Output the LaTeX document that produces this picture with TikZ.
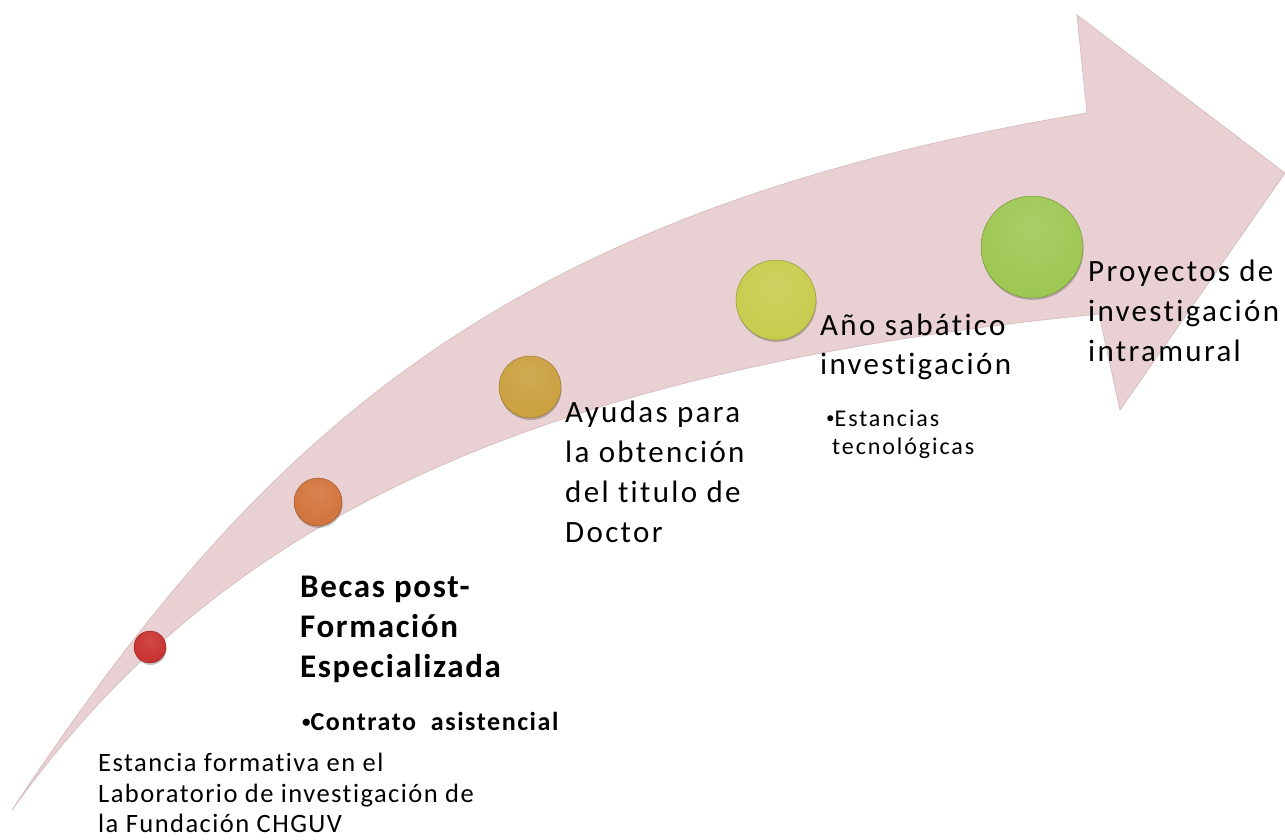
\documentclass[tikz,border=0pt]{standalone}
\usepackage{fontspec}
\setmainfont[Ligatures=NoCommon]{Carlito}
\usetikzlibrary{shadows}
\definecolor{arrowpink}{RGB}{232,208,211}
\definecolor{arrowedge}{RGB}{214,188,192}
\definecolor{cred}{RGB}{200,48,46}
\definecolor{corange}{RGB}{210,115,59}
\definecolor{cgold}{RGB}{202,160,62}
\definecolor{cyell}{RGB}{199,204,76}
\definecolor{cgreen}{RGB}{157,199,82}
\colorlet{bl}{red}\colorlet{bm}{red}\colorlet{bd}{red}
\pgfdeclareradialshading[bl,bm,bd]{button}{\pgfpoint{0bp}{10bp}}{color(0bp)=(bl); color(30bp)=(bm); color(46bp)=(bm); color(54bp)=(bd); color(60bp)=(bd)}
\newcommand{\smbul}{\raisebox{2.5pt}{\fontsize{17}{17}\selectfont •}}
\tikzset{
  ball/.style={circle, inner sep=0pt, minimum size=#1,
    drop shadow={shadow xshift=0.6pt, shadow yshift=-2pt, opacity=0.22, fill=black}},
  bcol/.style={/utils/exec={\colorlet{bm}{#1}\colorlet{bl}{#1!88!white}\colorlet{bd}{#1!65!black}},
    shading=button, draw=#1!70!black, line width=0.4pt},
  txtsmall/.style={anchor=base west, inner sep=0pt, text=black,
    font=\fontsize{26.5}{32}\selectfont\addfontfeatures{LetterSpace=5.5}},
  txtbold/.style={anchor=base west, inner sep=0pt, text=black,
    font=\fontsize{33}{40}\selectfont\bfseries\addfontfeatures{LetterSpace=5}},
  txtboldsm/.style={anchor=base west, inner sep=0pt, text=black,
    font=\fontsize{26}{31}\selectfont\bfseries\addfontfeatures{LetterSpace=6}},
  txtbig/.style={anchor=base west, inner sep=0pt, text=black,
    font=\fontsize{31}{40}\selectfont\addfontfeatures{LetterSpace=7.5}},
  txtsub/.style={anchor=base west, inner sep=0pt, text=black,
    font=\fontsize{24}{27}\selectfont\addfontfeatures{LetterSpace=8}},
}
\begin{document}
\begin{tikzpicture}[x=1pt,y=-1pt]
\useasboundingbox (0,0) rectangle (1285,839);
\fill[white] (0,0) rectangle (1285,839);
% big curved arrow
\fill[arrowpink, draw=arrowedge, line width=0.7pt]
  (12,810) .. controls (260,436) and (500,211) .. (1087,113)
  -- (1077,15) -- (1285,173) -- (1120,410) -- (1099,314)
  .. controls (480,375) and (198,551) .. (12,810) -- cycle;
% balls
\node[ball=32pt, bcol=cred] (s1) at (150,647) {};
\node[ball=48pt, bcol=corange] (s2) at (318,502) {};
\node[ball=62pt, bcol=cgold] (s3) at (530,387) {};
\node[ball=80pt, bcol=cyell] (s4) at (776,300) {};
\node[ball=102pt, bcol=cgreen] (s5) at (1032,247) {};
% texts
\node[txtsmall] (e1) at (98,771) {Estancia formativa en el};
\node[txtsmall] (e2) at (98,802) {Laboratorio de investigación de};
\node[txtsmall] (e3) at (98,832) {la Fundación CHGUV};
\node[txtbold] (b1) at (300,597) {Becas post-};
\node[txtbold] (b2) at (300,637) {Formación};
\node[txtbold] (b3) at (300,677) {Especializada};
\node[txtboldsm] (c1) at (302,730) {\smbul Contrato\ \ asistencial};
\node[txtbig] (a1) at (565,422) {Ayudas para};
\node[txtbig] (a2) at (565,462) {la obtención};
\node[txtbig] (a3) at (565,502) {del titulo de};
\node[txtbig] (a4) at (565,542) {Doctor};
\node[txtbig] (n1) at (820,335) {Año sabático};
\node[txtbig] (n2) at (820,374) {investigación};
\node[txtsub] (t1) at (826,426) {\smbul Estancias};
\node[txtsub] (t2) at (832,454) {tecnológicas};
\node[txtbig] (p1) at (1088,281) {Proyectos de};
\node[txtbig] (p2) at (1088,321) {investigación};
\node[txtbig] (p3) at (1088,361) {intramural};
\end{tikzpicture}
\end{document}
